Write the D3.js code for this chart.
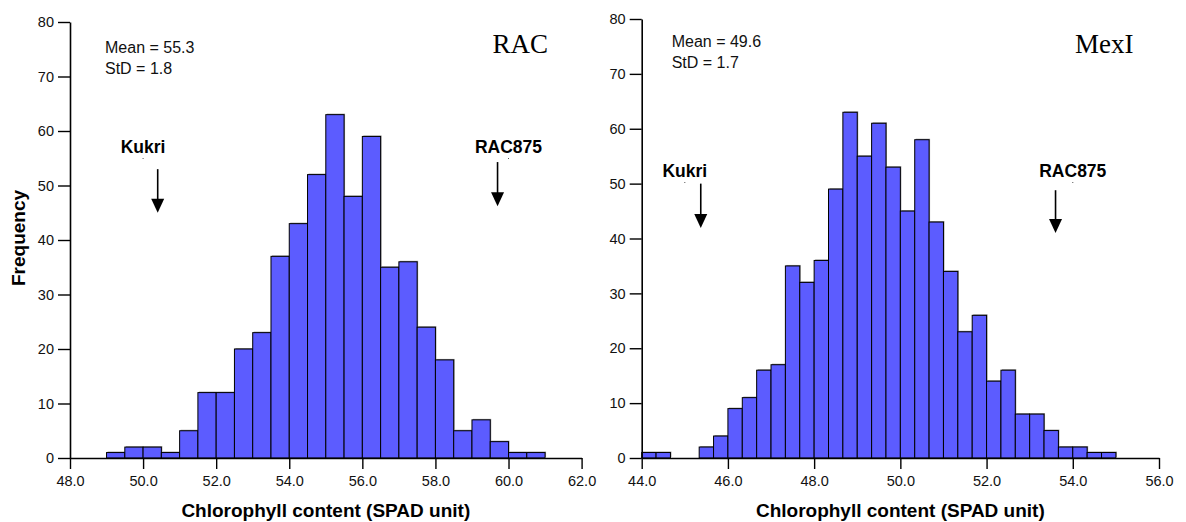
<!DOCTYPE html>
<html>
<head>
<meta charset="utf-8">
<script src="https://cdn.jsdelivr.net/npm/d3@7"></script>
<style>
  body { margin: 0; background: #fff; }
  svg { display: block; font-family: "Liberation Sans", Arial, sans-serif; }
</style>
</head>
<body>
<svg id="chart" width="1186" height="522"></svg>
<script>
// ---- RAC population: SPAD frequency counts, bins of 0.5 unit from 49.0 ----
const racBinStart = 49.0;
const racBinWidth = 0.5;
const racCounts = [1, 2, 2, 1, 5, 12, 12, 20, 23, 37, 43, 52, 63, 48, 59, 35, 36, 24, 18, 5, 7, 3, 1, 1];
const racTicksX = [48, 50, 52, 54, 56, 58, 60, 62];
const racStats = ["Mean = 55.3", "StD = 1.8"];
const racParentNames = ["Kukri", "RAC875"];
const racParentValues = [50.4, 59.7];
const racParentLabelAt = [50.0, 60.0];

// ---- MexI population: SPAD frequency counts, bins of 1/3 unit from 44.0 ----
const mexBinStart = 44.0;
const mexBinWidth = 1 / 3;
const mexCounts = [1, 1, 0, 0, 2, 4, 9, 11, 16, 17, 35, 32, 36, 49, 63, 55, 61, 53, 45, 58, 43, 34, 23, 26, 14, 16, 8, 8, 5, 2, 2, 1, 1];
const mexTicksX = [44, 46, 48, 50, 52, 54, 56];
const mexStats = ["Mean = 49.6", "StD = 1.7"];
const mexParentNames = ["Kukri", "RAC875"];
const mexParentValues = [45.37, 53.6];
const mexParentLabelAt = [45.0, 54.0];

const freqTicks = [0, 10, 20, 30, 40, 50, 60, 70, 80];
const xTitle = "Chlorophyll content (SPAD unit)";
const yTitle = "Frequency";

const svg = d3.select("#chart");
const BAR_FILL = "#5c5cff";

function drawPanel(p) {
  const x = d3.scaleLinear().domain(p.xDomain).range([p.left, p.right]);
  const y = d3.scaleLinear().domain([0, 80]).range([p.base, p.top]);
  const g = svg.append("g");

  const bins = p.counts.map((c, i) => ({
    x0: p.binStart + i * p.binWidth,
    x1: p.binStart + (i + 1) * p.binWidth,
    count: c
  })).filter(d => d.count > 0);

  // soft grey drop shadow behind each bar
  g.append("g").selectAll("rect").data(bins).join("rect")
    .attr("x", d => x(d.x0) + 1)
    .attr("y", d => y(d.count) - 1)
    .attr("width", d => x(d.x1) - x(d.x0))
    .attr("height", d => y(0) - y(d.count))
    .attr("fill", "#9a9a9a");

  g.append("g").selectAll("rect").data(bins).join("rect")
    .attr("x", d => x(d.x0))
    .attr("y", d => y(d.count))
    .attr("width", d => x(d.x1) - x(d.x0))
    .attr("height", d => y(0) - y(d.count))
    .attr("fill", BAR_FILL)
    .attr("stroke", "#000")
    .attr("stroke-width", 1);

  // axes
  const xAxis = d3.axisBottom(x).tickValues(p.ticksX).tickFormat(d3.format(".1f"))
    .tickSize(11).tickSizeOuter(0).tickPadding(7);
  const yAxis = d3.axisLeft(y).tickValues(freqTicks).tickFormat(d3.format("d"))
    .tickSize(12).tickSizeOuter(0).tickPadding(4);

  const gx = g.append("g").attr("transform", `translate(0,${p.base})`).call(xAxis);
  const gy = g.append("g").attr("transform", `translate(${p.left},0)`).call(yAxis);
  [gx, gy].forEach(a => {
    a.select(".domain").attr("stroke", "#000").attr("stroke-width", 1.6);
    a.selectAll(".tick line").attr("stroke", "#000").attr("stroke-width", 1.4);
    a.selectAll(".tick text").attr("fill", "#111").style("font-size", "14.5px")
      .style("font-family", '"Liberation Sans", Arial, sans-serif');
  });

  // x axis title
  g.append("text")
    .attr("x", (p.left + p.right) / 2).attr("y", 517)
    .attr("text-anchor", "middle")
    .style("font-size", "19px").style("font-weight", "bold")
    .text(xTitle);

  // mean / standard deviation
  g.append("g").selectAll("text").data(p.stats).join("text")
    .attr("x", p.left + p.statsDx)
    .attr("y", (d, i) => p.statsY + i * 21)
    .style("font-size", "16px").attr("fill", "#111")
    .text(d => d);

  // population name
  g.append("text")
    .attr("x", p.nameRight).attr("y", 53)
    .attr("text-anchor", "end")
    .style("font-family", '"Liberation Serif", "Times New Roman", serif')
    .style("font-size", "27px")
    .text(p.name);

  // parental lines
  p.parentNames.forEach((name, i) => {
    const ax = x(p.parentValues[i]);
    const lx = x(p.parentLabelAt[i]);
    const a = p.arrows[i];
    g.append("text")
      .attr("x", lx).attr("y", p.labelY)
      .attr("text-anchor", "middle")
      .style("font-size", "17.5px").style("font-weight", "bold")
      .text(name);
    g.append("rect")
      .attr("x", lx - 0.5).attr("y", p.labelY + 5.5)
      .attr("width", 1).attr("height", 1).attr("fill", "#555");
    const yTop = y(a.top), yTip = y(a.tip);
    g.append("line")
      .attr("x1", ax).attr("x2", ax)
      .attr("y1", yTop).attr("y2", yTip - 10)
      .attr("stroke", "#000").attr("stroke-width", 1.6);
    g.append("path")
      .attr("d", `M${ax - 6.5},${yTip - 14} L${ax + 6.5},${yTip - 14} L${ax},${yTip} Z`)
      .attr("fill", "#000");
  });
}

drawPanel({
  xDomain: [48, 62], left: 70, right: 581.6, top: 22, base: 458,
  counts: racCounts, binStart: racBinStart, binWidth: racBinWidth,
  ticksX: racTicksX, stats: racStats, statsDx: 35, statsY: 53,
  name: "RAC", nameRight: 548,
  parentNames: racParentNames, parentValues: racParentValues, parentLabelAt: racParentLabelAt,
  labelY: 152.5,
  arrows: [{ top: 53, tip: 45 }, { top: 54.3, tip: 46.2 }]
});

drawPanel({
  xDomain: [44, 56], left: 641.7, right: 1159, top: 19, base: 458,
  counts: mexCounts, binStart: mexBinStart, binWidth: mexBinWidth,
  ticksX: mexTicksX, stats: mexStats, statsDx: 30, statsY: 47,
  name: "MexI", nameRight: 1133.5,
  parentNames: mexParentNames, parentValues: mexParentValues, parentLabelAt: mexParentLabelAt,
  labelY: 176.5,
  arrows: [{ top: 50, tip: 41.9 }, { top: 48.8, tip: 41 }]
});

// shared y axis title on the left panel
svg.append("text")
  .attr("transform", "translate(25,238) rotate(-90)")
  .attr("text-anchor", "middle")
  .style("font-size", "19px").style("font-weight", "bold")
  .text(yTitle);
</script>
</body>
</html>
